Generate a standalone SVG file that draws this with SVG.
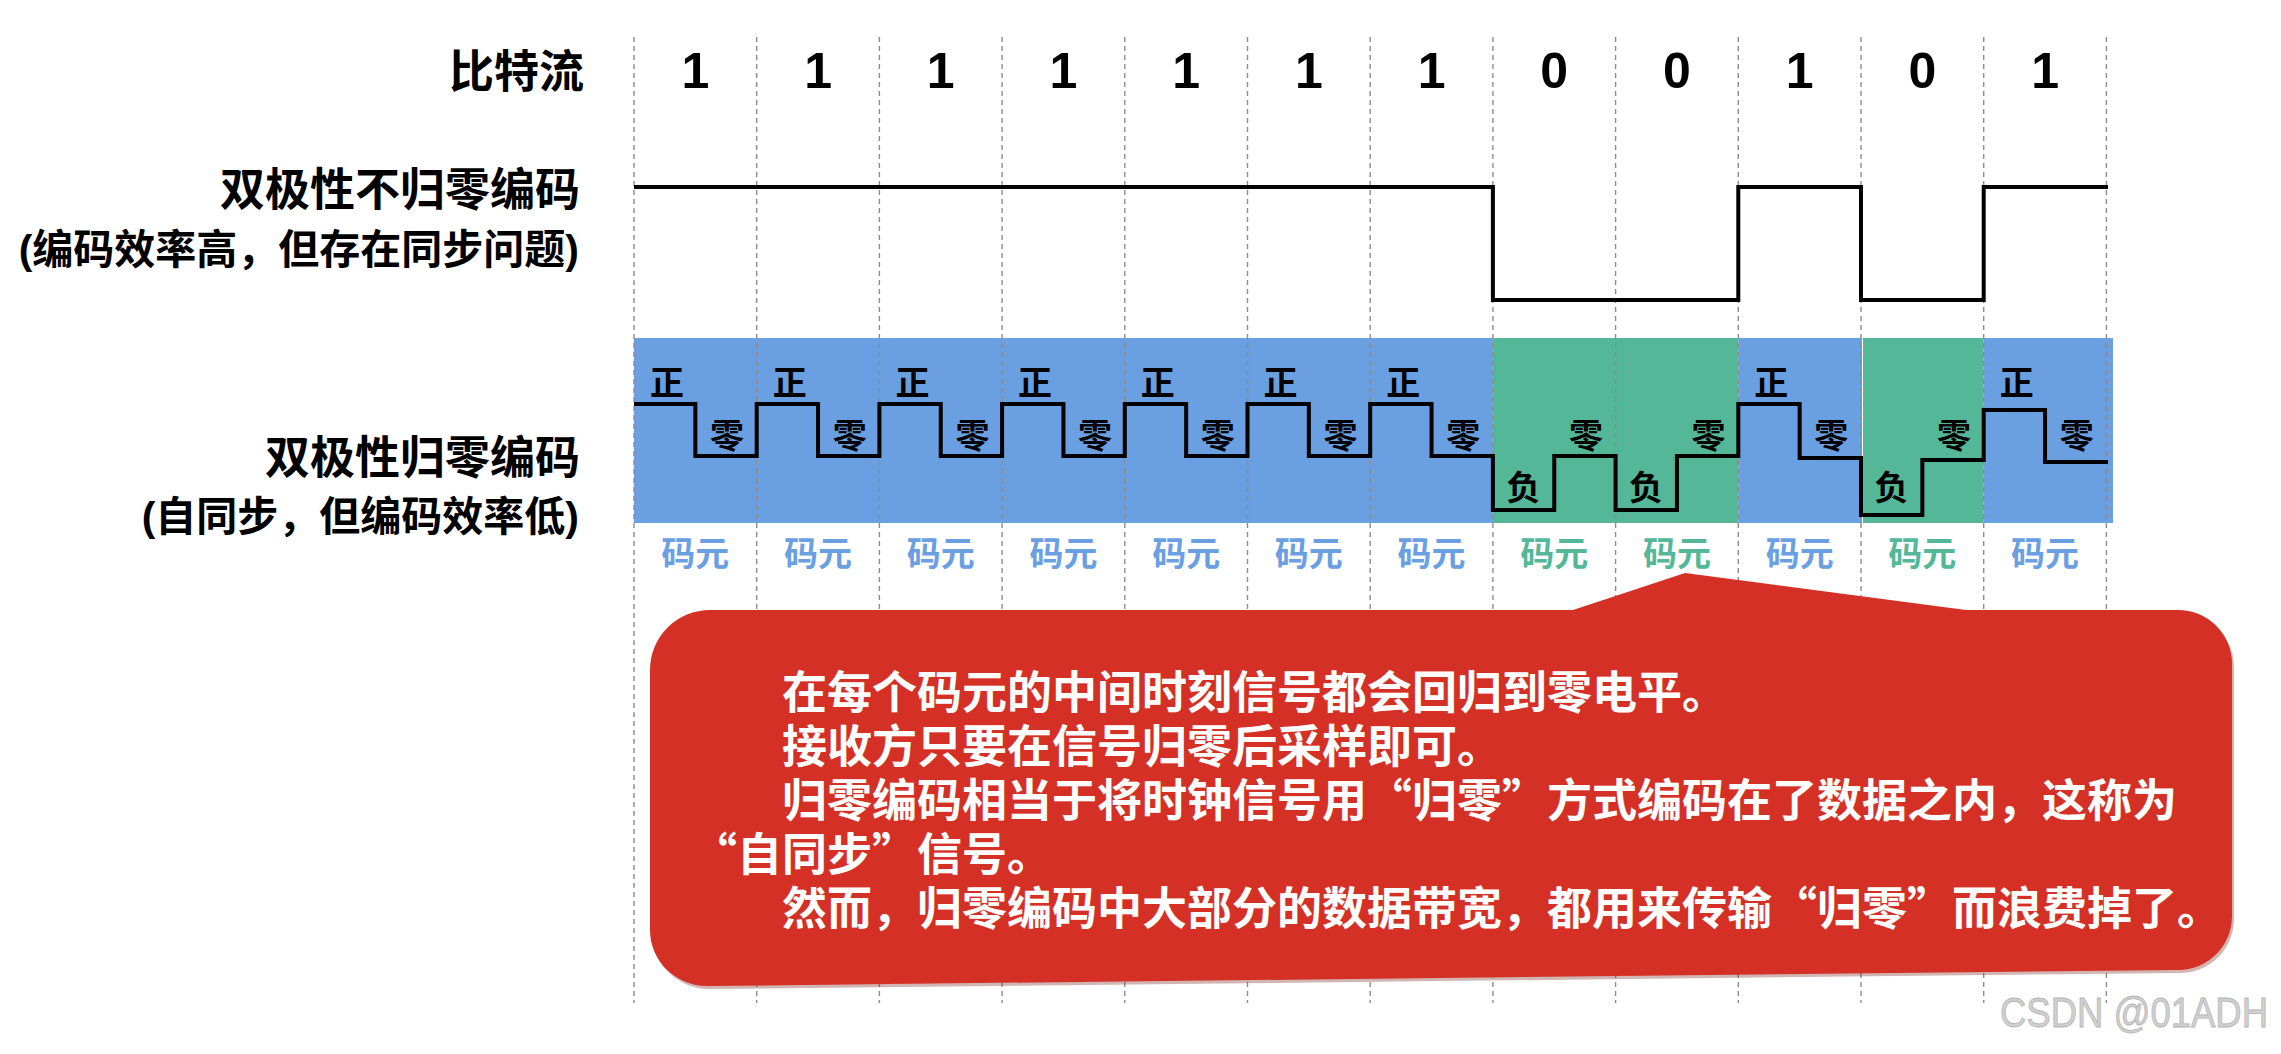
<svg xmlns="http://www.w3.org/2000/svg" width="2281" height="1054" viewBox="0 0 2281 1054">
<style>
.lbl{font-family:"Liberation Sans","Noto Sans CJK SC",sans-serif;font-weight:700;fill:#000}
.title{font-size:45px;text-anchor:end}
.sub{font-size:41px;text-anchor:end}
.bit{font-family:"Liberation Sans",Arial,sans-serif;font-weight:700;font-size:50px;text-anchor:middle;fill:#000}
.mk{font-family:"Liberation Sans","Noto Sans CJK SC",sans-serif;font-weight:700;font-size:34px;text-anchor:middle;fill:#000}
.ym{font-family:"Liberation Sans","Noto Sans CJK SC",sans-serif;font-weight:700;font-size:34px;text-anchor:middle}
.bb{fill:#6A9FE1}
.gg{fill:#54B898}
.grid{stroke:#8c8c8c;stroke-width:1.4;stroke-dasharray:5 4;fill:none}
.wave{fill:none;stroke:#000;stroke-width:4;stroke-linejoin:miter;stroke-linecap:butt}
.note{font-family:"Noto Sans CJK SC","Liberation Sans",sans-serif;font-weight:700;font-size:45px;fill:#fff}
</style>

<g id="bands">
<rect class="bb" x="634" y="338" width="858.9" height="185"/>
<rect class="gg" x="1492.9" y="338" width="245.4" height="185"/>
<rect class="bb" x="1738.3" y="338" width="123.7" height="185"/>
<rect class="gg" x="1863" y="338" width="120.7" height="185"/>
<rect class="bb" x="1983.7" y="338" width="129.3" height="185"/>
</g>

<g id="grid">
<path class="grid" d="M634 37V1003M756.7 37V1003M879.4 37V1003M1002.1 37V1003M1124.8 37V1003M1247.5 37V1003M1370.2 37V1003M1492.9 37V1003M1615.6 37V1003M1738.3 37V1003M1861 37V1003M1983.7 37V1003M2106.4 37V1003"/>
</g>

<g id="labels">
<text class="lbl title" x="584" y="88">比特流</text>
<text class="lbl title" x="580" y="206">双极性不归零编码</text>
<text class="lbl sub" x="579" y="264">(编码效率高，但存在同步问题)</text>
<text class="lbl title" x="580" y="474">双极性归零编码</text>
<text class="lbl sub" x="579" y="531">(自同步，但编码效率低)</text>
</g>

<g id="bits">
<text class="bit" x="695.35" y="88">1</text>
<text class="bit" x="818.05" y="88">1</text>
<text class="bit" x="940.75" y="88">1</text>
<text class="bit" x="1063.45" y="88">1</text>
<text class="bit" x="1186.15" y="88">1</text>
<text class="bit" x="1308.85" y="88">1</text>
<text class="bit" x="1431.55" y="88">1</text>
<text class="bit" x="1554.25" y="88">0</text>
<text class="bit" x="1676.95" y="88">0</text>
<text class="bit" x="1799.65" y="88">1</text>
<text class="bit" x="1922.35" y="88">0</text>
<text class="bit" x="2045.05" y="88">1</text>
</g>

<g id="nrz">
<path class="wave" d="M634 187H1492.9V300H1738.3V187H1861V300H1983.7V187H2108"/>
</g>

<g id="rz">
<path class="wave" d="M634 404H695.35V456H756.7V404H818.05V456H879.4V404H940.75V456H1002.1V404H1063.45V456H1124.8V404H1186.15V456H1247.5V404H1308.85V456H1370.2V404H1431.55V456H1492.9V510H1554.25V456H1615.6V510H1676.95V456H1738.3V404H1799.65V458H1861V515H1922.35V460H1983.7V410H2045.05V462H2108"/>
</g>

<g id="levels">
<text class="mk" x="667" y="395">正</text>
<text class="mk" x="789.7" y="395">正</text>
<text class="mk" x="912.4" y="395">正</text>
<text class="mk" x="1035.1" y="395">正</text>
<text class="mk" x="1157.8" y="395">正</text>
<text class="mk" x="1280.5" y="395">正</text>
<text class="mk" x="1403.2" y="395">正</text>
<text class="mk" x="1771.3" y="395">正</text>
<text class="mk" x="2016.7" y="395">正</text>
<text class="mk" x="727" y="448">零</text>
<text class="mk" x="849.7" y="448">零</text>
<text class="mk" x="972.4" y="448">零</text>
<text class="mk" x="1095.1" y="448">零</text>
<text class="mk" x="1217.8" y="448">零</text>
<text class="mk" x="1340.5" y="448">零</text>
<text class="mk" x="1463.2" y="448">零</text>
<text class="mk" x="1585.9" y="448">零</text>
<text class="mk" x="1708.6" y="448">零</text>
<text class="mk" x="1831.3" y="448">零</text>
<text class="mk" x="1954" y="448">零</text>
<text class="mk" x="2076.7" y="448">零</text>
<text class="mk" x="1523.4" y="500">负</text>
<text class="mk" x="1646.1" y="500">负</text>
<text class="mk" x="1891.5" y="500">负</text>
</g>

<g id="symbols">
<text class="ym bb" x="695.35" y="566">码元</text>
<text class="ym bb" x="818.05" y="566">码元</text>
<text class="ym bb" x="940.75" y="566">码元</text>
<text class="ym bb" x="1063.45" y="566">码元</text>
<text class="ym bb" x="1186.15" y="566">码元</text>
<text class="ym bb" x="1308.85" y="566">码元</text>
<text class="ym bb" x="1431.55" y="566">码元</text>
<text class="ym gg" x="1554.25" y="566">码元</text>
<text class="ym gg" x="1676.95" y="566">码元</text>
<text class="ym bb" x="1799.65" y="566">码元</text>
<text class="ym gg" x="1922.35" y="566">码元</text>
<text class="ym bb" x="2045.05" y="566">码元</text>
</g>

<g id="callout">
<path d="M710 610H1573L1685 573L1966 610H2178A54 54 0 0 1 2232 664V916A54 54 0 0 1 2178 970L707 986A57 56 0 0 1 650 930V670A60 60 0 0 1 710 610Z" fill="#7a2a24" opacity="0.35" transform="translate(2 3)"/>
<path d="M710 610H1573L1685 573L1966 610H2178A54 54 0 0 1 2232 664V916A54 54 0 0 1 2178 970L707 986A57 56 0 0 1 650 930V670A60 60 0 0 1 710 610Z" fill="#D43025"/>
<text class="note"><tspan x="782" y="709">在每个码元的中间时刻信号都会回归到零电平。</tspan><tspan x="782" y="763">接收方只要在信号归零后采样即可。</tspan><tspan x="782" y="817">归零编码相当于将时钟信号用“归零”方式编码在了数据之内，这称为</tspan><tspan x="692" y="871">“自同步”信号。</tspan><tspan x="782" y="925">然而，归零编码中大部分的数据带宽，都用来传输“归零”而浪费掉了。</tspan></text>
</g>

<g id="watermark">
<text transform="translate(2000 1027) scale(1 1.2)" x="0" y="0" font-family="Liberation Sans, sans-serif" font-size="36" fill="#d0d0d0" stroke="#b4b4b4" stroke-width="0.7" textLength="268" lengthAdjust="spacingAndGlyphs">CSDN @01ADH</text>
</g>
</svg>
